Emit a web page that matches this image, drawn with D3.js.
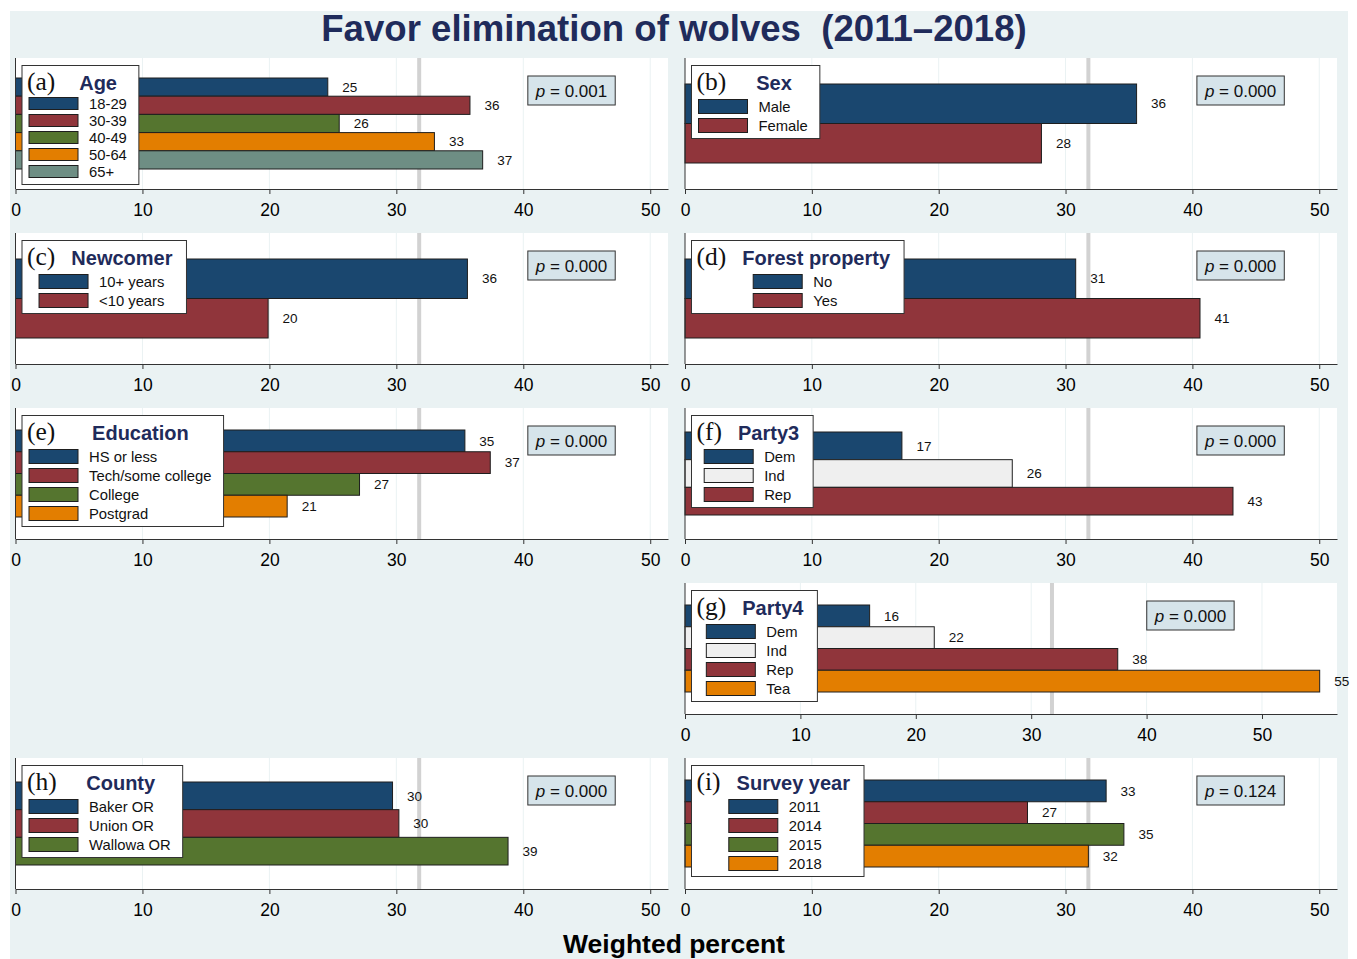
<!DOCTYPE html>
<html>
<head>
<meta charset="utf-8">
<script src="https://cdn.jsdelivr.net/npm/d3@7"></script>
<style>
  html, body { margin: 0; padding: 0; background: #ffffff; }
  svg { display: block; }
</style>
</head>
<body>
<script>
// ---------------- DATA ----------------
const chartTitle = "Favor elimination of wolves  (2011\u20132018)";
const xAxisTitle = "Weighted percent";
const xTicks = [0, 10, 20, 30, 40, 50];
const overallMean = 31.8;

const ageCats = ["18-29", "30-39", "40-49", "50-64", "65+"];
const ageVals = [24.6, 35.8, 25.5, 33.0, 36.8];

const sexCats = ["Male", "Female"];
const sexVals = [35.6, 28.1];

const newcomerCats = ["10+ years", "<10 years"];
const newcomerVals = [35.6, 19.9];

const forestCats = ["No", "Yes"];
const forestVals = [30.8, 40.6];

const eduCats = ["HS or less", "Tech/some college", "College", "Postgrad"];
const eduVals = [35.4, 37.4, 27.1, 21.4];

const party3Cats = ["Dem", "Ind", "Rep"];
const party3Vals = [17.1, 25.8, 43.2];

const party4Cats = ["Dem", "Ind", "Rep", "Tea"];
const party4Vals = [16.0, 21.6, 37.5, 55.0];

const countyCats = ["Baker OR", "Union OR", "Wallowa OR"];
const countyVals = [29.7, 30.2, 38.8];

const yearCats = ["2011", "2014", "2015", "2018"];
const yearVals = [33.2, 27.0, 34.6, 31.8];

const panelLetters = ["(a)", "(b)", "(c)", "(d)", "(e)", "(f)", "(g)", "(h)", "(i)"];
const panelTitles = ["Age", "Sex", "Newcomer", "Forest property", "Education", "Party3", "Party4", "County", "Survey year"];
const pValues = ["0.001", "0.000", "0.000", "0.000", "0.000", "0.000", "0.000", "0.000", "0.124"];
const axisMax = [51.4, 51.4, 51.4, 51.4, 51.4, 51.4, 56.5, 51.4, 51.4];
const pLabelX = 43.8;

// ---------------- STYLE / LAYOUT ----------------
const SANS = "'Liberation Sans', Arial, sans-serif";
const SERIF = "'Liberation Serif', 'Times New Roman', serif";
const stdColors = ["#1a476f", "#90353b", "#55752f", "#e37e00", "#6e8e84"];
const partyColors = ["#1a476f", "#efefef", "#90353b", "#e37e00"];
const titleColor = "#1f2b5b";

const panels = [
  {cats: ageCats, vals: ageVals, col: 0, row: 0, colors: stdColors},
  {cats: sexCats, vals: sexVals, col: 1, row: 0, colors: stdColors},
  {cats: newcomerCats, vals: newcomerVals, col: 0, row: 1, colors: stdColors},
  {cats: forestCats, vals: forestVals, col: 1, row: 1, colors: stdColors},
  {cats: eduCats, vals: eduVals, col: 0, row: 2, colors: stdColors},
  {cats: party3Cats, vals: party3Vals, col: 1, row: 2, colors: partyColors},
  {cats: party4Cats, vals: party4Vals, col: 1, row: 3, colors: partyColors},
  {cats: countyCats, vals: countyVals, col: 0, row: 4, colors: stdColors},
  {cats: yearCats, vals: yearVals, col: 1, row: 4, colors: stdColors}
];

const W = 1357, H = 959;
const colX = [{left: 15.5, right: 668}, {left: 685, right: 1337}];
const rowTop = r => 58 + 175 * r;
const plotH = 131;

const svg = d3.select("body").append("svg").attr("width", W).attr("height", H)
  .style("font-family", SANS);

svg.append("rect").attr("x", 10).attr("y", 11).attr("width", 1338).attr("height", H - 11)
  .attr("fill", "#eaf2f3");

svg.append("text").attr("x", 674).attr("y", 41).attr("text-anchor", "middle")
  .style("white-space", "pre").style("font-family", SANS)
  .attr("font-size", 36.6).attr("font-weight", "bold").attr("fill", titleColor)
  .text(chartTitle);

svg.append("text").attr("x", 674).attr("y", 953).attr("text-anchor", "middle")
  .style("font-family", SANS)
  .attr("font-size", 26.5).attr("font-weight", "bold").attr("fill", "#000")
  .text(xAxisTitle);

panels.forEach((p, i) => {
  const left = colX[p.col].left, right = colX[p.col].right;
  const top = rowTop(p.row), bottom = top + plotH;
  const g = svg.append("g");
  const x = d3.scaleLinear().domain([0, axisMax[i]]).range([left, right]);
  const n = p.cats.length;
  const pad = 30 - 2 * n;
  const y = d3.scaleBand().domain(p.cats).range([top + pad, bottom - pad]).padding(0);

  // plot region
  g.append("rect").attr("x", left).attr("y", top).attr("width", right - left).attr("height", plotH)
    .attr("fill", "#ffffff");

  // grid
  g.selectAll(".grid").data(xTicks.filter(t => t > 0)).enter().append("line")
    .attr("x1", d => x(d)).attr("x2", d => x(d)).attr("y1", top).attr("y2", bottom)
    .attr("stroke", "#eaf2f3").attr("stroke-width", 1);

  // reference line
  g.append("line").attr("x1", x(overallMean)).attr("x2", x(overallMean)).attr("y1", top).attr("y2", bottom)
    .attr("stroke", "#d2d2d2").attr("stroke-width", 4);

  // bars
  g.selectAll(".bar").data(p.cats).enter().append("rect")
    .attr("x", x(0)).attr("y", d => y(d))
    .attr("width", (d, j) => x(p.vals[j]) - x(0)).attr("height", y.bandwidth())
    .attr("fill", (d, j) => p.colors[j]).attr("stroke", "#1e1e1e").attr("stroke-width", 1);

  // value labels
  g.selectAll(".vlab").data(p.cats).enter().append("text")
    .attr("x", (d, j) => x(p.vals[j]) + 22).attr("y", d => y(d) + y.bandwidth() / 2)
    .attr("dy", "0.35em").attr("text-anchor", "middle").attr("font-size", 13.5).attr("fill", "#111")
    .style("font-family", SANS)
    .text((d, j) => d3.format(".0f")(p.vals[j]));

  // axes
  const ax = g.append("g").attr("transform", `translate(0,${bottom})`)
    .call(d3.axisBottom(x).tickValues(xTicks).tickSize(5).tickSizeOuter(0).tickPadding(10).tickFormat(d3.format("d")));
  ax.select(".domain").attr("stroke", "#333");
  ax.selectAll(".tick line").attr("stroke", "#333");
  ax.selectAll(".tick text").attr("font-size", 17.5).attr("fill", "#000")
    .style("font-family", SANS);
  g.append("line").attr("x1", left).attr("x2", left).attr("y1", top).attr("y2", bottom)
    .attr("stroke", "#333").attr("stroke-width", 1);

  // p-value box
  const pg = g.append("g");
  const pcx = x(pLabelX), pcy = top + 32.5;
  const pt = pg.append("text").attr("x", pcx).attr("y", pcy).attr("dy", "0.36em")
    .attr("text-anchor", "middle").attr("font-size", 17).attr("fill", "#111")
    .style("font-family", SANS);
  pt.append("tspan").attr("font-style", "italic").text("p");
  pt.append("tspan").text(" = " + pValues[i]);
  const pw = pt.node().getComputedTextLength();
  pg.insert("rect", "text").attr("x", pcx - pw / 2 - 8).attr("y", pcy - 14.5)
    .attr("width", pw + 16).attr("height", 29)
    .attr("fill", "#d6e4ea").attr("stroke", "#333").attr("stroke-width", 1);

  // legend
  const lg = g.append("g");
  const bx = left + 6.5, by = top + 7.5;
  const P = n >= 5 ? 17 : 19;
  const sh = P - 5;
  const firstC = n >= 5 ? 38 : 41;
  const paren = lg.append("text").attr("x", bx + 5).attr("y", by + 24)
    .style("font-family", SERIF).attr("font-size", 25.5)
    .attr("fill", "#111").text(panelLetters[i]);
  const parW = paren.node().getComputedTextLength();
  const ttl = lg.append("text").attr("y", by + 24).attr("text-anchor", "middle")
    .style("font-family", SANS)
    .attr("font-size", 20).attr("font-weight", "bold").attr("fill", titleColor).text(panelTitles[i]);
  const tW = ttl.node().getComputedTextLength();
  const labs = lg.selectAll(".llab").data(p.cats).enter().append("text")
    .style("font-family", SANS)
    .attr("font-size", 14.8).attr("fill", "#111").attr("dy", "0.35em")
    .attr("y", (d, j) => by + firstC + j * P).text(d => d);
  let lw = 0;
  labs.each(function () { lw = Math.max(lw, this.getComputedTextLength()); });
  const keysW = 49 + 11 + lw;
  const titleW = parW + 16 + tW;
  const inner = Math.max(keysW, titleW);
  const boxW = inner + 19;
  const boxH = firstC + (n - 1) * P + 13;
  const kx = bx + 7 + (inner - keysW) / 2;
  lg.insert("rect", "text").attr("x", bx).attr("y", by).attr("width", boxW).attr("height", boxH)
    .attr("fill", "#ffffff").attr("stroke", "#333").attr("stroke-width", 1);
  ttl.attr("x", (bx + 5 + parW + bx + boxW) / 2 + 1);
  labs.attr("x", kx + 60);
  lg.selectAll(".sw").data(p.cats).enter().append("rect")
    .attr("x", kx).attr("y", (d, j) => by + firstC + j * P - sh / 2)
    .attr("width", 49).attr("height", sh)
    .attr("fill", (d, j) => p.colors[j]).attr("stroke", "#1e1e1e").attr("stroke-width", 1);
});
</script>
</body>
</html>
